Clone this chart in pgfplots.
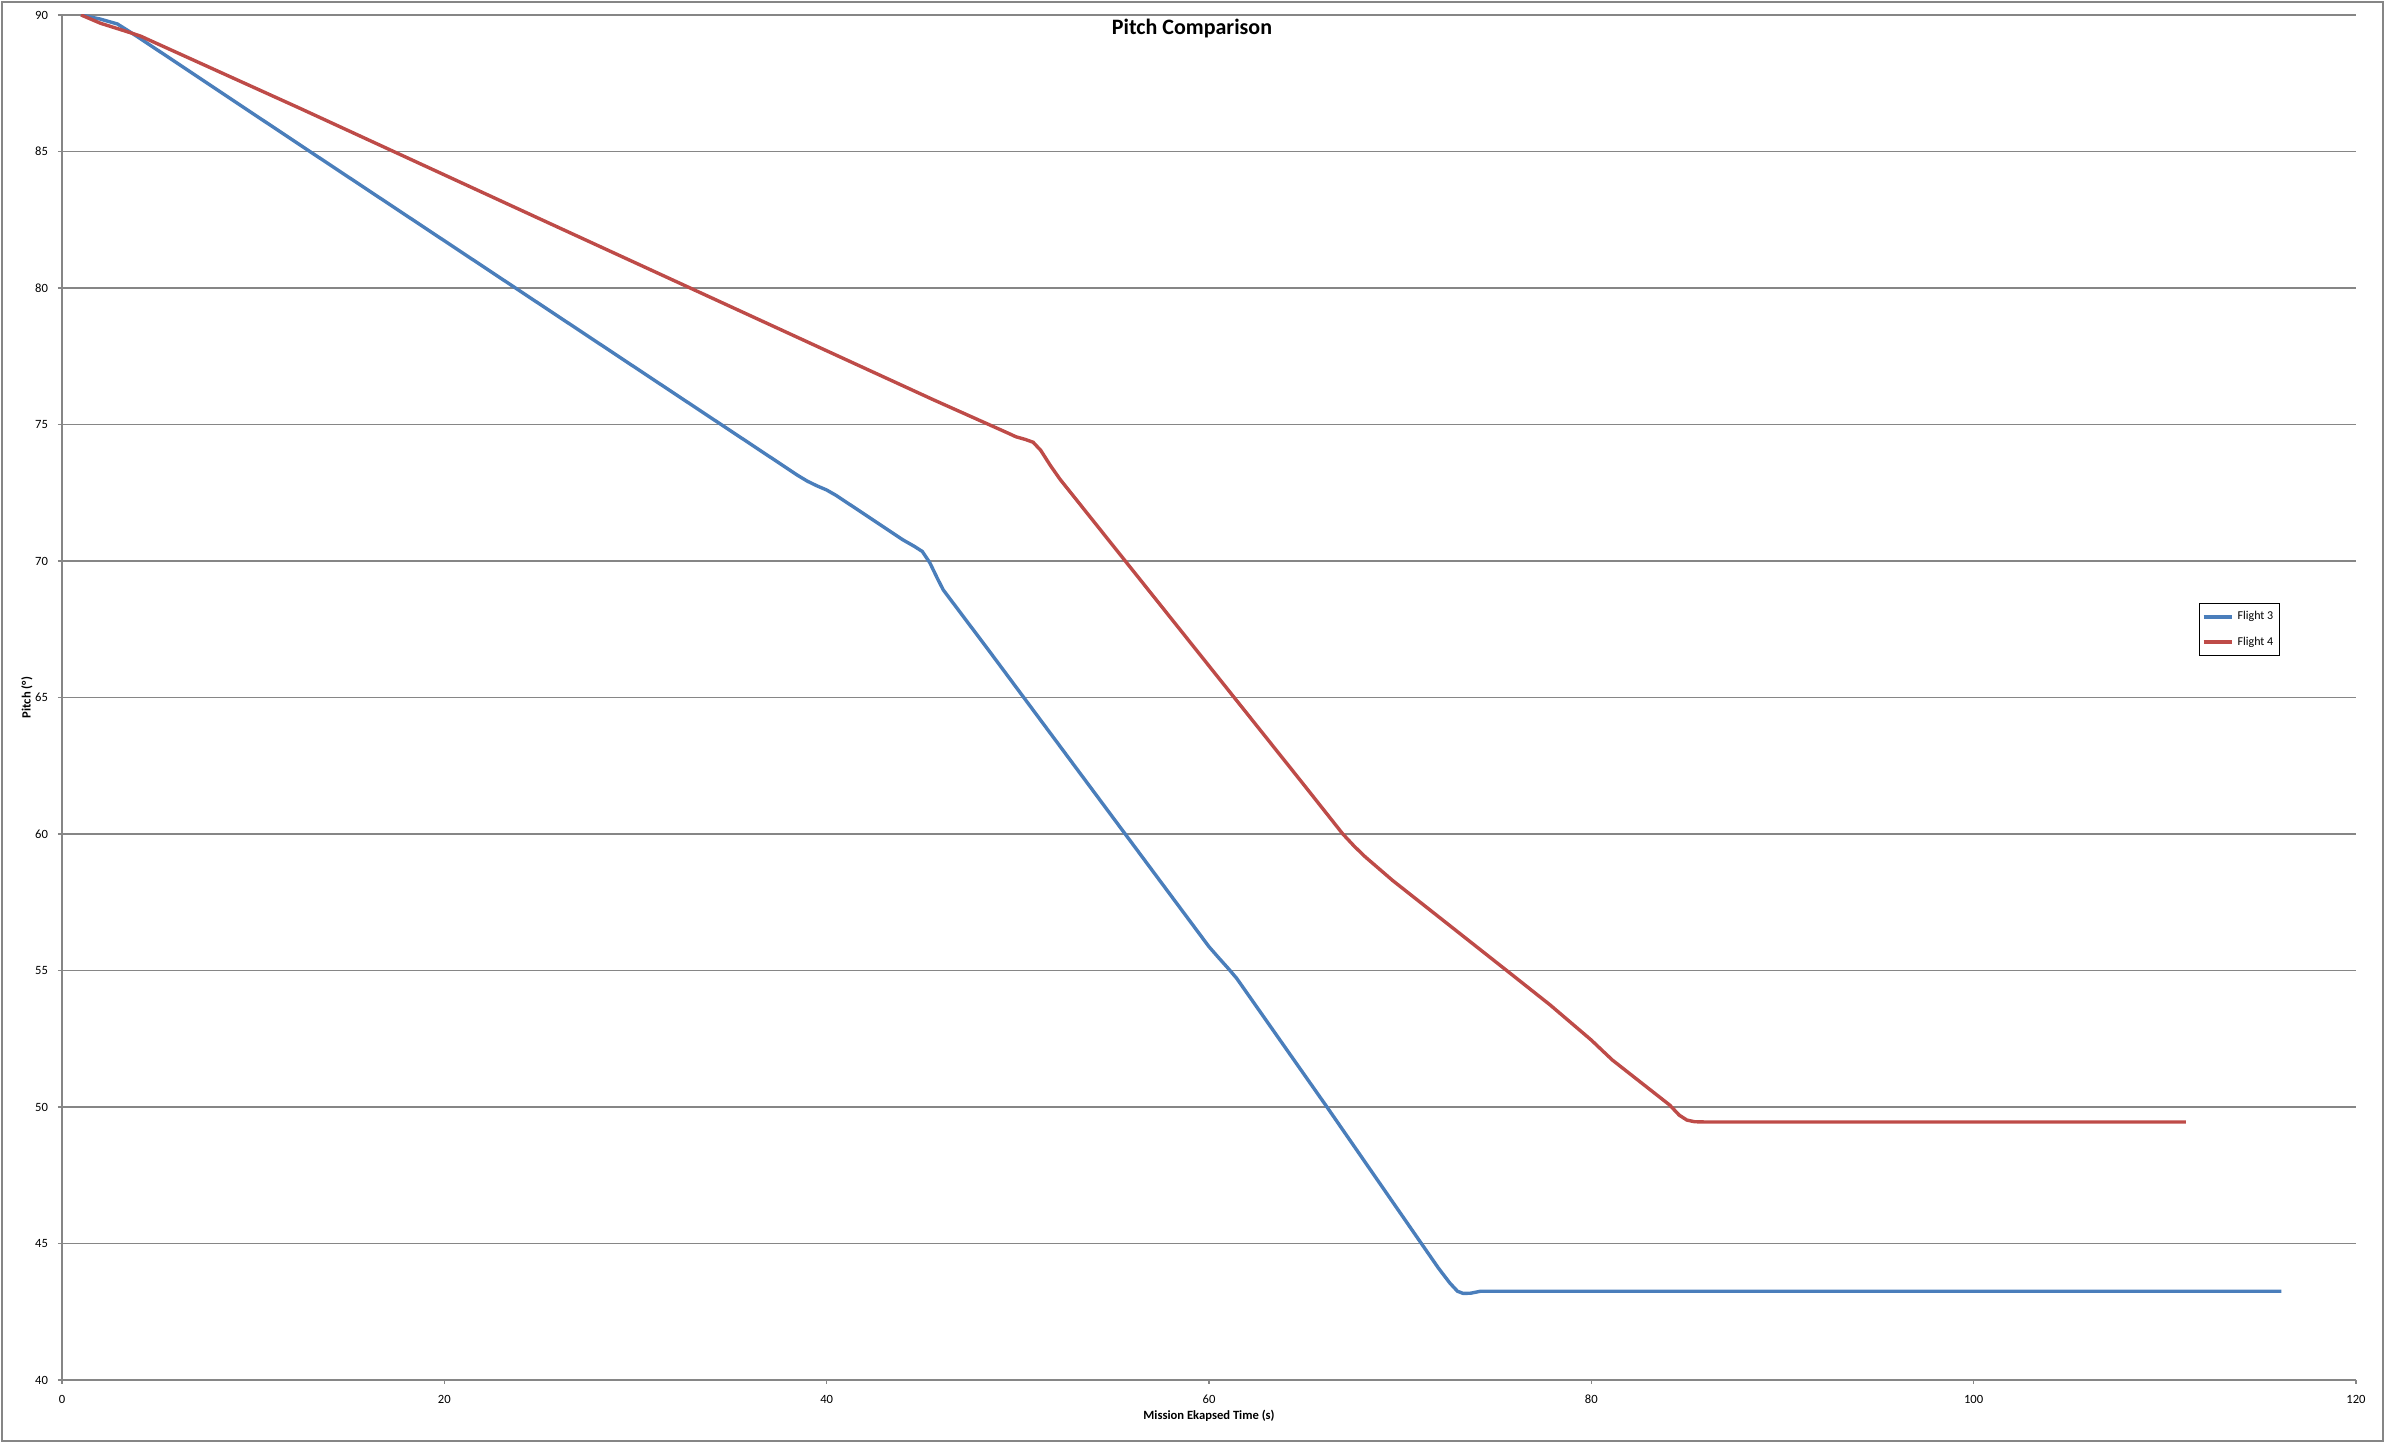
\documentclass[border=0pt]{standalone}
\usepackage{fontspec}
\setmainfont{Carlito}
\usepackage{pgfplots}
\pgfplotsset{compat=1.18}

\definecolor{flightblue}{HTML}{4A7EBB}
\definecolor{flightred}{HTML}{BE4B48}
\definecolor{gridgray}{HTML}{868686}

\begin{document}
\begin{tikzpicture}
% chart area with its thin gray frame
\useasboundingbox (0,0) rectangle (1192.5pt,721.5pt);
\draw[gridgray, line width=1pt] (1pt,1pt) rectangle (1191.5pt,720.5pt);

\begin{axis}[
  at={(31pt,31.5pt)}, anchor=south west,
  scale only axis, width=1147pt, height=682.5pt,
  xmin=0, xmax=120, ymin=40, ymax=90,
  xtick={0,20,...,120}, ytick={40,45,...,90},
  axis x line=bottom, axis y line=left,
  axis line style={-, gridgray, line width=0.8pt},
  tick align=outside, major tick length=2pt,
  tick style={gridgray, line width=0.8pt},
  ymajorgrids, grid style={gridgray, line width=0.8pt},
  /pgf/number format/assume math mode=true,
  tick label style={font=\fontsize{6.3}{7.5}\selectfont, black},
  xticklabel style={yshift=-2pt},
  yticklabel style={xshift=-1.5pt},
  xlabel={Mission Ekapsed Time (s)},
  ylabel={Pitch (°)},
  x label style={at={(axis description cs:0.5,-0.0293)}, anchor=base, font=\bfseries\fontsize{6.3}{7.5}\selectfont},
  y label style={at={(axis description cs:-0.01526,0.5)}, anchor=center, font=\bfseries\fontsize{6.3}{7.5}\selectfont},
  legend style={at={(axis description cs:0.9316,0.569)}, anchor=north west,
    draw=black, line width=0.5pt, font=\fontsize{6}{7}\selectfont,
    inner xsep=1pt, inner ysep=1.8pt, row sep=3pt, cells={anchor=west}},
  legend image code/.code={\draw[#1, line width=2pt] (0pt,0pt) -- (14pt,0pt);},
  legend cell align=left,
]

% Flight 3
\addplot[flightblue, line width=1.7pt] coordinates {
  (1.0,90.0) (2.0,89.85) (2.9,89.67) (3.4,89.45) (4.0,89.18)
  (12.45,85.24) (20,81.73) (30,77.08) (38.5,73.13) (39.0,72.92)
  (39.5,72.75) (40.0,72.6) (40.5,72.4) (44.0,70.77) (44.6,70.53)
  (45.0,70.35) (45.4,69.93) (45.8,69.35) (46.1,68.94) (48.4,66.8)
  (57.44,58.28) (59.5,56.34) (60.0,55.87) (60.5,55.47) (61.0,55.08)
  (61.45,54.71) (66.16,50.01) (71.04,45.07) (72.0,44.1) (72.6,43.55)
  (73.0,43.25) (73.3,43.17) (73.7,43.18) (74.2,43.25) (75.0,43.25)
  (116.1,43.25)
};
\addlegendentry{Flight 3}

% Flight 4
\addplot[flightred, line width=1.7pt] coordinates {
  (1.0,90.0) (2.0,89.7) (3.4,89.39) (4.1,89.23) (4.6,89.07)
  (12.45,86.58) (25,82.53) (40,77.7) (45.6,75.9) (49.5,74.68)
  (49.9,74.55) (50.4,74.45) (50.8,74.35) (51.2,74.05) (51.7,73.5)
  (52.2,73.0) (64.76,61.98) (67.0,60.0) (67.6,59.55) (68.16,59.17)
  (69.6,58.3) (75.57,55.0) (77.84,53.74) (80.0,52.45) (80.6,52.05)
  (81.1,51.72) (84.1,50.07) (84.6,49.7) (85.0,49.52) (85.4,49.46)
  (86.0,49.45) (111.1,49.45)
};
\addlegendentry{Flight 4}

% chart title, centred on the chart area
\node[anchor=base, font=\bfseries\fontsize{11}{13}\selectfont]
  at (axis description cs:0.4926,0.98586) {Pitch Comparison};
\end{axis}
\end{tikzpicture}
\end{document}
